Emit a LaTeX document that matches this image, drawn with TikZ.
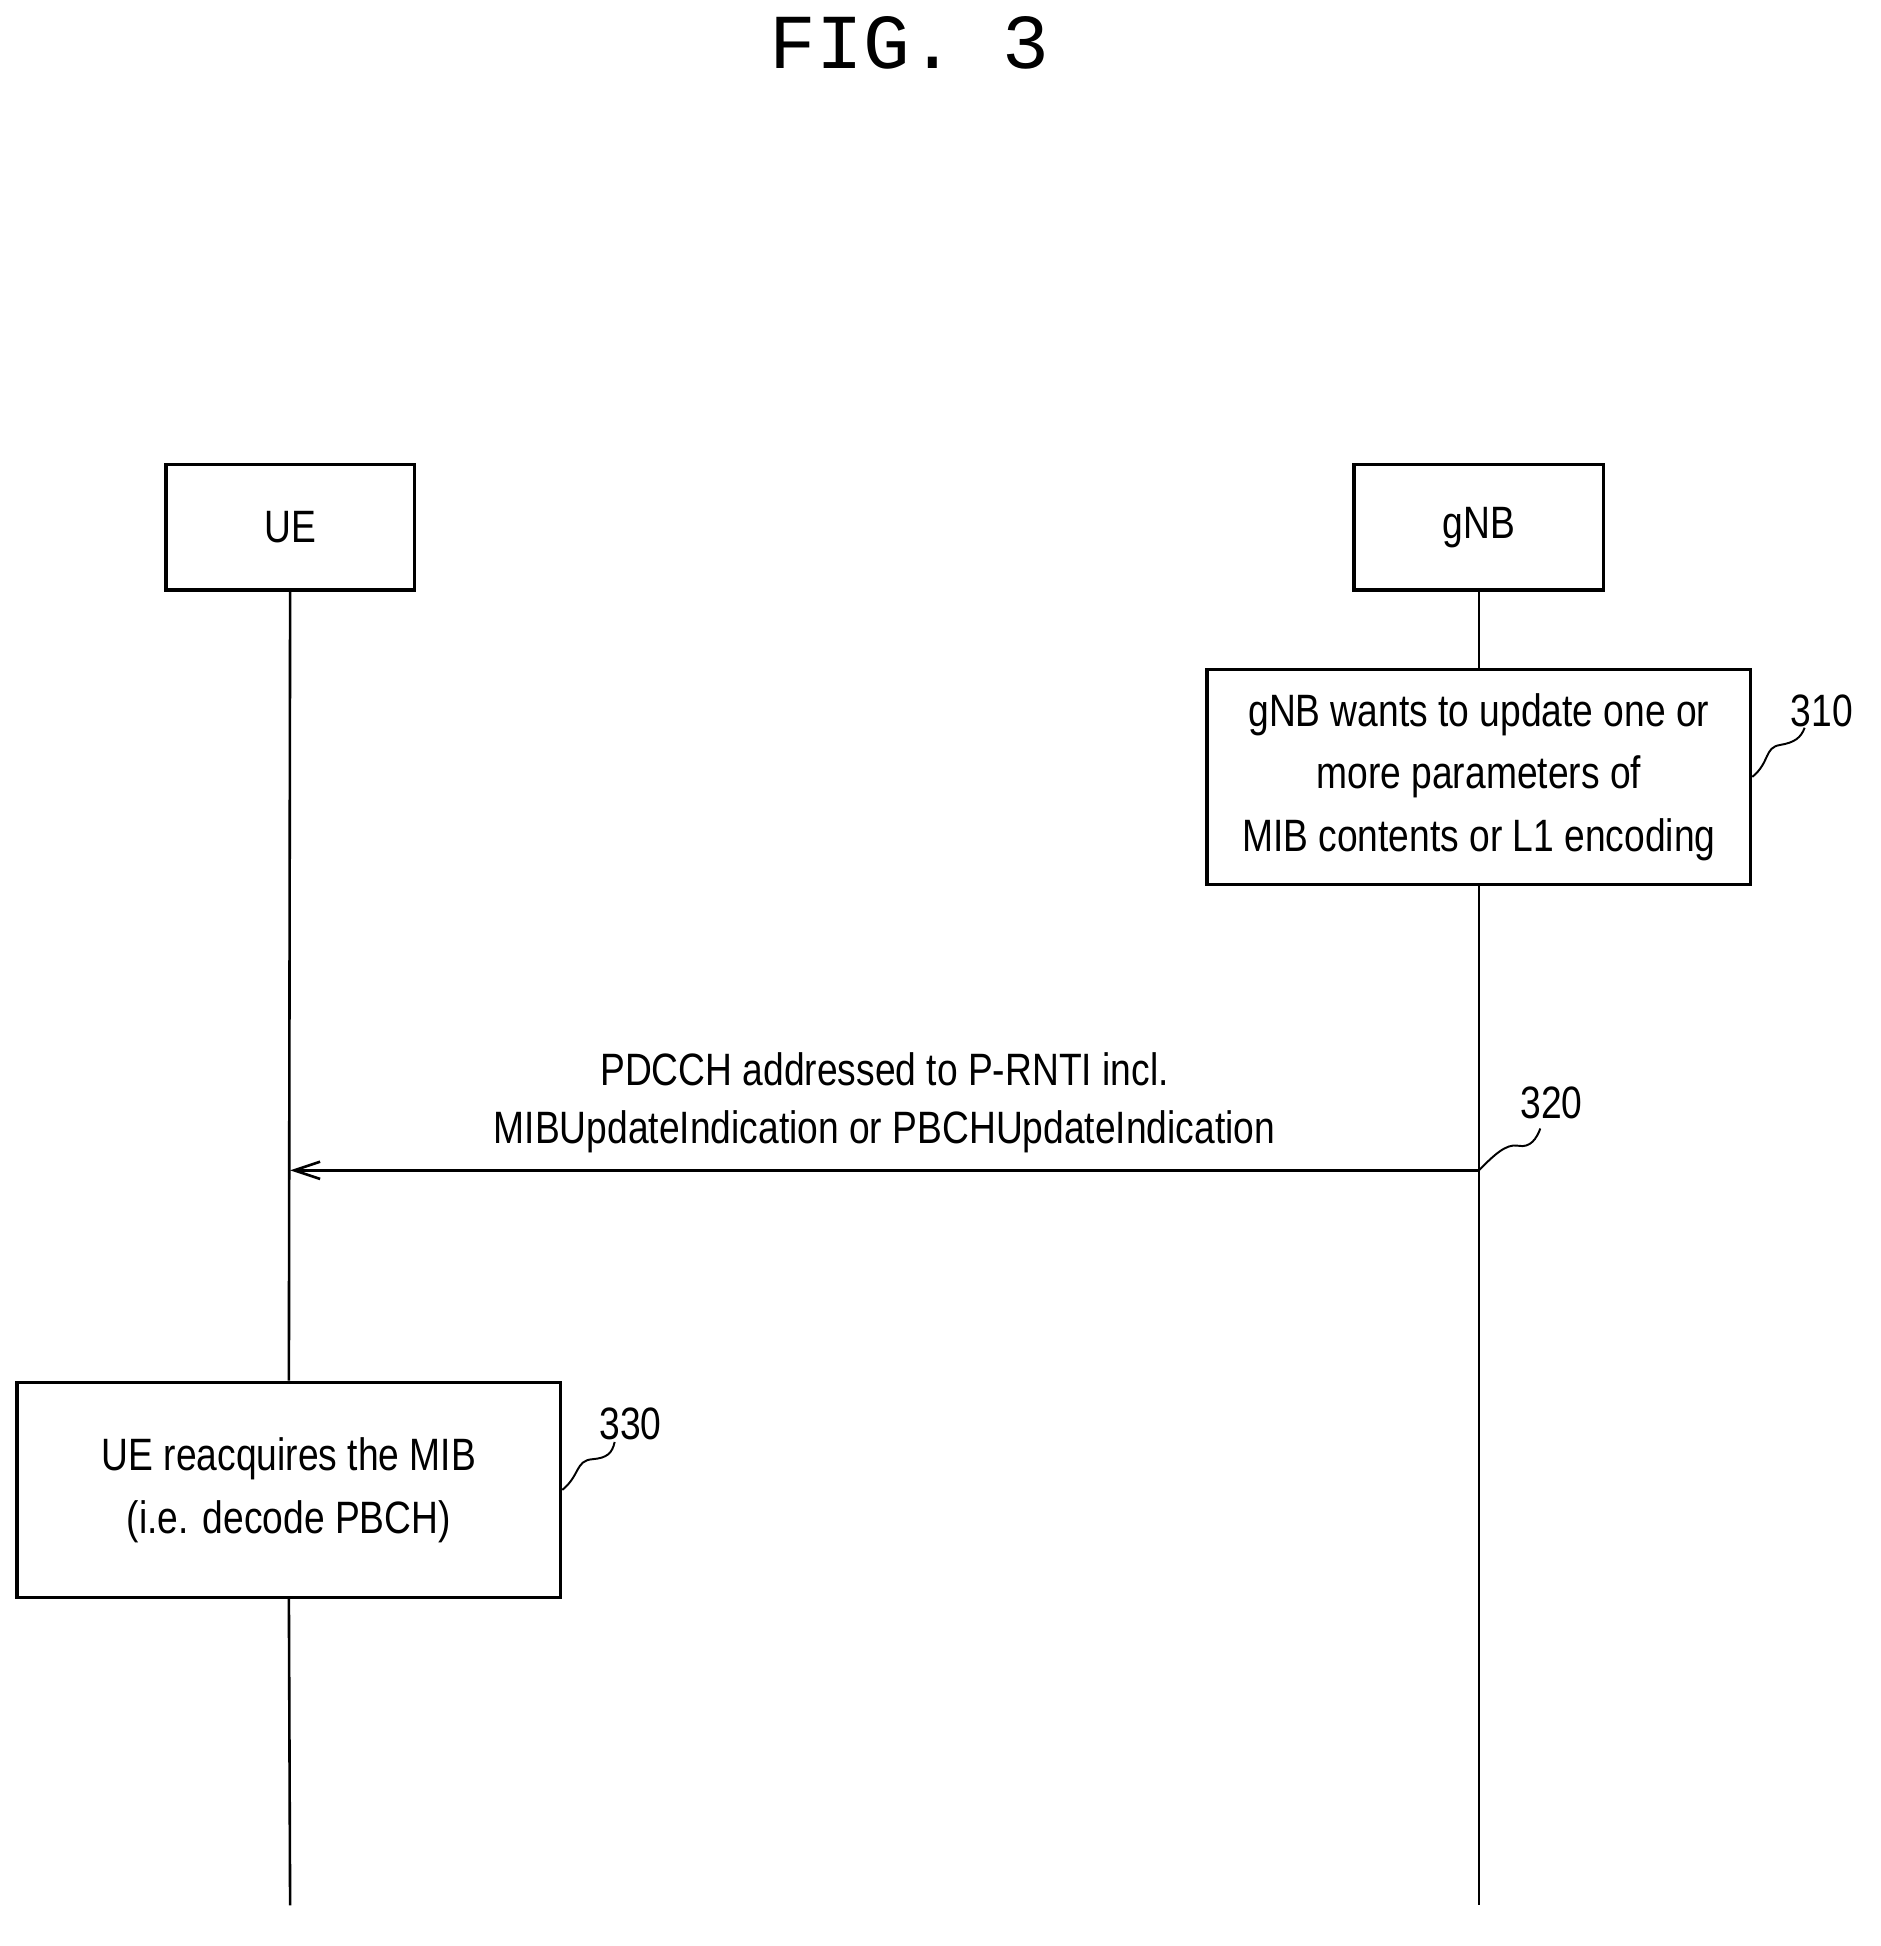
\documentclass[tikz,border=0pt]{standalone}
\usepackage{fontspec}
\setmainfont{Liberation Sans}[FakeStretch=0.82]
\newfontfamily\titlefont{Liberation Mono}
\usetikzlibrary{arrows.meta}
\begin{document}
\begin{tikzpicture}[x=0.02cm,y=-0.02cm,
  box/.style={draw,line width=1.6pt,inner sep=0pt,font=\fontsize{21}{29}\selectfont,align=center},
  life/.style={line width=1.2pt},
  lbl/.style={font=\fontsize{21}{25}\selectfont},
  sq/.style={line width=0.9pt}]
\useasboundingbox (0,0) rectangle (1530,1583);
\node[font=\titlefont\fontsize{36}{40}\selectfont] (title) at (740,35) {FIG. 3};
\node[box,minimum width=202*0.02cm,minimum height=102*0.02cm] (ue) at (236,429) {UE};
\node[box,minimum width=203*0.02cm,minimum height=102*0.02cm] (gnb) at (1203,429) {gNB};
\node[box,minimum width=442*0.02cm,minimum height=175*0.02cm] (b310) at (1203,632) {gNB wants to update one or\\more parameters of\\MIB contents or L1 encoding};
\node[box,minimum width=442*0.02cm,minimum height=175*0.02cm] (b330) at (235,1212) {UE reacquires the MIB\\(i.e. decode PBCH)};
\coordinate (ueend) at (236,1550);
\coordinate (gnbend) at (1203,1550);
\coordinate (m1) at (1203,952);
\coordinate (m2) at (236,952);
\draw[life] (ue.south) -- (b330.north);
\draw[life] (b330.south) -- (ueend);
\draw[life] (gnb.south) -- (b310.north);
\draw[life] (b310.south) -- (gnbend);
\draw[life,-{Straight Barb[length=12pt,width=8pt]}] (m1) -- (m2)
  node[midway,above=4pt,lbl,align=center,font=\fontsize{21}{27}\selectfont] (msg) {PDCCH addressed to P-RNTI incl.\\MIBUpdateIndication or PBCHUpdateIndication};
\node[lbl] (l310) at (1482,578) {310};
\node[lbl] (l320) at (1262,897) {320};
\node[lbl] (l330) at (513,1158) {330};
\draw[sq] (b310.east) .. controls (1440,620) and (1435,608) .. (1448,606) .. controls (1460,604) and (1465,600) .. (1468,592);
\draw[sq] (m1) .. controls (1215,940) and (1225,930) .. (1235,932) .. controls (1245,934) and (1250,926) .. (1253,918);
\draw[sq] (b330.east) .. controls (472,1200) and (468,1188) .. (482,1187) .. controls (494,1186) and (498,1182) .. (500,1173);
\end{tikzpicture}
\end{document}
